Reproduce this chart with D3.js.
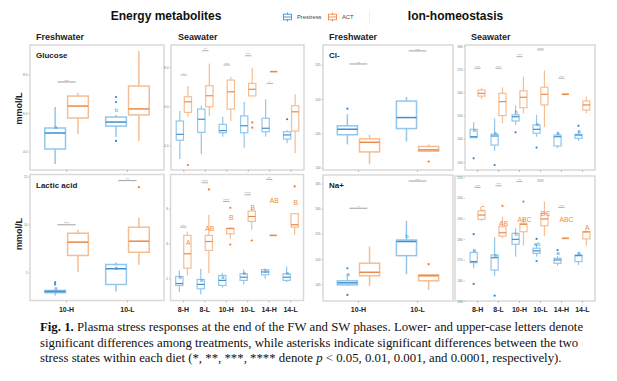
<!DOCTYPE html>
<html>
<head>
<meta charset="utf-8">
<script src="https://cdn.jsdelivr.net/npm/d3@7"></script>
<style>
  body { margin: 0; background: #fff; }
  svg { display: block; font-family: "Liberation Sans", Arial, sans-serif; }
</style>
</head>
<body>
<div id="chart"></div>
<script>
var fwCats = ["10-H", "10-L"];
var swCats = ["8-H", "8-L", "10-H", "10-L", "14-H", "14-L"];
var seriesNames = ["Prestress", "ACT"];

// box stats per category: [low whisker, q1, median, q3, high whisker]
// Glucose, freshwater
var glucoseFwPre = [[3.35, 4.13, 4.96, 5.22, 6.31], [4.75, 5.32, 5.53, 5.79, 5.90]];
var glucoseFwAct = [[4.91, 5.74, 6.36, 6.88, 7.04], [4.55, 5.90, 6.21, 7.40, 9.22]];
var glucoseFwPreOut = [[], [4.55, 6.57, 6.83]];
var glucoseFwActOut = [[], []];
var glucoseFwPreLet = [["a", 5.27], ["b", 6.16]];
var glucoseFwActLet = [null, null];
var glucoseFwSig = [["***", 7.61], null];
var glucoseFwTicks = [4, 6, 8];

// Glucose, seawater
var glucoseSwPre = [[3.31, 4.27, 4.57, 5.25, 5.76], [3.55, 4.67, 5.34, 5.86, 6.03], [4.45, 4.65, 4.76, 5.08, 5.47],
                    [3.89, 4.65, 5.01, 5.51, 6.23], [4.45, 4.70, 4.88, 5.39, 6.36], [4.11, 4.33, 4.54, 4.70, 4.79]];
var glucoseSwAct = [[5.47, 5.69, 6.23, 6.49, 7.04], [5.51, 5.98, 6.54, 7.05, 8.19], [5.25, 5.86, 6.74, 7.34, 7.51],
                    [6.53, 6.53, 6.87, 7.17, 7.97], [7.77, 7.77, 7.77, 7.77, 7.77], [3.60, 4.74, 5.72, 6.03, 6.61]];
var glucoseSwPreOut = [[], [], [], [], [], [5.34]];
var glucoseSwActOut = [[3.0], [], [], [5.18, 4.91], [], []];
var glucoseSwPreLet = [null, null, null, null, null, null];
var glucoseSwActLet = [null, null, null, null, null, null];
var glucoseSwSig = [["*", 7.60], ["**", 8.84], ["***", 8.11], ["***", 8.58], ["*", 7.17], null];
var glucoseSwTicks = [4, 6, 8];

// Lactic acid, freshwater
var lacticFwPre = [[2.60, 2.89, 3.02, 3.125, 3.125], [3.02, 3.75, 5.39, 5.83, 6.04]];
var lacticFwAct = [[5.03, 6.77, 8.16, 9.09, 9.45], [5.80, 7.11, 8.26, 9.72, 10.70]];
var lacticFwPreOut = [[3.96, 3.75], []];
var lacticFwActOut = [[], [13.89]];
var lacticFwPreLet = [["a", 3.44], ["b", 5.45]];
var lacticFwActLet = [null, null];
var lacticFwSig = [["****", 9.97], ["**", 14.58]];
var lacticFwTicks = [5, 10, 15];

// Lactic acid, seawater
var lacticSwPre = [[1.22, 1.60, 1.71, 2.11, 2.46], [1.09, 1.41, 1.66, 1.94, 2.55], [1.49, 1.60, 1.89, 2.17, 2.33],
                   [1.66, 1.89, 2.07, 2.27, 2.51], [1.98, 2.21, 2.37, 2.50, 2.59], [1.79, 1.89, 2.07, 2.27, 2.69]];
var lacticSwAct = [[2.17, 2.59, 3.41, 4.46, 4.69], [2.30, 3.60, 4.11, 4.46, 5.64], [4.27, 4.55, 4.85, 4.87, 4.93],
                   [4.78, 5.26, 5.54, 5.85, 6.02], [4.46, 4.46, 4.46, 4.46, 4.46], [4.50, 4.93, 5.07, 5.70, 5.70]];
var lacticSwPreOut = [[], [], [], [], [], []];
var lacticSwActOut = [[], [7.09], [6.04, 3.94], [4.17], [], [7.26]];
var lacticSwPreLet = [["a", 2.07], ["a", 1.89], ["a", 2.07], ["a", 2.30], ["b", 2.42], ["a", 2.30]];
var lacticSwActLet = [["A", 4.04], ["AB", 4.87], ["B", 5.50], ["B", 6.07], ["AB", 6.42], ["B", 6.36]];
var lacticSwSig = [["***", 4.93], ["****", 7.47], ["****", 6.40], ["****", 6.78], ["**", 7.66], null];
var lacticSwTicks = [2, 4, 6];

// Cl-, freshwater
var clFwPre = [[143.4, 144.8, 145.6, 146.1, 147.8], [143.8, 145.7, 147.3, 149.7, 150.3]];
var clFwAct = [[140.5, 142.3, 143.7, 144.2, 144.8], [142.4, 142.4, 142.6, 143.1, 143.4]];
var clFwPreOut = [[148.6], []];
var clFwActOut = [[], [140.9]];
var clFwPreLet = [null, null];
var clFwActLet = [null, null];
var clFwSig = [["**", 155.1], ["***", 157.0]];
var clFwTicks = [140, 145, 150, 155];

// Cl-, seawater
var clSwPre = [[140.5, 140.5, 140.9, 144.1, 147.1], [134.7, 137.3, 141.2, 142.0, 148.8], [146.0, 147.7, 149.5, 150.3, 154.3],
               [140.9, 142.4, 144.1, 146.0, 150.3], [135.9, 136.9, 140.9, 141.6, 143.1], [139.1, 140.2, 141.6, 141.9, 143.4]];
var clSwAct = [[157.2, 158.4, 159.6, 161.0, 161.8], [146.7, 150.0, 156.0, 159.6, 162.2], [151.0, 153.4, 157.9, 160.7, 166.8],
               [145.0, 154.6, 159.2, 162.2, 169.4], [159.2, 159.2, 159.2, 159.2, 159.2], [151.0, 152.4, 154.6, 156.3, 158.1]];
var clSwPreOut = [[131.6], [128.7], [142.8], [136.2], [], [145.6]];
var clSwActOut = [[], [], [], [], [], []];
var clSwPreLet = [["a", 143.8], ["a", 142.4], ["b", 151.4], ["a", 146.3], ["a", 142.4], ["a", 143.4]];
var clSwActLet = [null, null, null, null, null, null];
var clSwSig = [["***", 170.4], ["***", 170.4], ["***", 175.4], ["****", 178.3], ["***", 166.1], null];
var clSwTicks = [130, 140, 150, 160, 170, 180];

// Na+, freshwater
var naFwPre = [[144.7, 144.9, 145.3, 145.7, 146.9], [147.0, 150.7, 153.5, 153.8, 157.6]];
var naFwAct = [[144.7, 146.7, 147.4, 149.2, 152.5], [143.9, 145.7, 146.7, 146.9, 147.0]];
var naFwPreOut = [[148.2, 142.9], []];
var naFwActOut = [[], [149.0]];
var naFwPreLet = [["a", 147.1], ["b", 154.6]];
var naFwActLet = [null, null];
var naFwSig = [["*", 160.1], ["***", 165.5]];
var naFwTicks = [145, 150, 155, 160, 165];

// Na+, seawater
var naSwPre = [[165.9, 168.6, 169.1, 173.6, 174.7], [162.3, 165.0, 171.0, 172.3, 180.9], [171.5, 177.5, 179.9, 182.8, 185.3],
               [171.5, 173.1, 174.3, 175.6, 177.5], [167.1, 168.3, 169.9, 170.7, 171.8], [167.5, 169.1, 172.0, 172.3, 173.9]];
var naSwAct = [[188.8, 189.6, 191.7, 193.7, 194.1], [180.4, 181.5, 183.1, 186.0, 190.9], [176.8, 183.6, 187.2, 187.7, 190.1],
               [181.5, 186.5, 189.8, 192.5, 198.2], [180.4, 180.4, 180.4, 180.4, 180.4], [176.8, 180.1, 183.5, 183.6, 184.4]];
var naSwPreOut = [[182.4, 158.3], [152.6], [], [180.1, 169.4], [174.7], []];
var naSwActOut = [[], [196.2], [198.2], [], [], []];
var naSwPreLet = [["a", 174.7], ["a", 172.3], ["b", 182.5], ["ab", 177.5], ["a", 173.1], ["a", 173.4]];
var naSwActLet = [["C", 195.0], ["AB", 187.7], ["ABC", 189.6], ["BC", 192.5], ["ABC", 189.6], ["A", 185.6]];
var naSwSig = [["***", 205.1], ["***", 205.9], ["**", 207.9], ["****", 208.2], ["***", 195.4], null];
var naSwTicks = [150, 160, 170, 180, 190, 200, 210];

var captionLines = [
  ["Fig. 1.", " Plasma stress responses at the end of the FW and SW phases. Lower- and upper-case letters denote"],
  ["", "significant differences among treatments, while asterisks indicate significant differences between the two"],
  ["", "stress states within each diet (*, **, ***, **** denote ", "p", " < 0.05, 0.01, 0.001, and 0.0001, respectively)."]
];

var W = 617, H = 381;
var col = {
  Prestress: {box: "#93c6ea", med: "#3f90d0", pt: "#2f86cf", txt: "#4d9bd6"},
  ACT: {box: "#f6bd93", med: "#ea8a45", pt: "#ec7a2c", txt: "#ee8b48"}
};

var svg = d3.select("#chart").append("svg")
    .attr("width", W).attr("height", H);
svg.append("rect").attr("width", W).attr("height", H).attr("fill", "#fff");

function panel(o) {
  var g = svg.append("g");
  var x = d3.scaleBand().domain(o.cats).range([o.px0, o.x1]).paddingInner(0).paddingOuter(0.1);
  var step = x.step();
  var dodge = d3.scaleBand().domain(seriesNames).range([-0.375 * step, 0.375 * step]);
  var bw = 0.34 * step;
  var y = d3.scaleLinear().domain(o.domain).range([o.y1, o.y0]);
  var lw = o.cats.length > 2 ? 1.2 : 1.5;

  g.append("rect")
    .attr("x", o.x0).attr("y", o.y0)
    .attr("width", o.x1 - o.x0).attr("height", o.y1 - o.y0)
    .attr("fill", "none").attr("stroke", "#d9d9d9").attr("stroke-width", 1.5);

  var ya = g.append("g").attr("transform", "translate(" + o.px0 + ",0)")
    .call(d3.axisLeft(y).tickValues(o.ticks).tickSize(1.5).tickPadding(1));
  ya.select(".domain").remove();
  ya.selectAll("line").attr("stroke", "#aaa").attr("stroke-width", 0.6);
  ya.selectAll("text").attr("font-size", 3.2).attr("fill", "#777").attr("font-family", "Liberation Sans");

  var xa = g.append("g").attr("transform", "translate(0," + o.y1 + ")")
    .call(d3.axisBottom(x).tickSize(2).tickPadding(4.5));
  xa.select(".domain").remove();
  xa.selectAll("line").attr("stroke", "#999").attr("stroke-width", 0.6);
  xa.selectAll("text").attr("font-size", 7).attr("font-weight", "bold").attr("fill", "#222")
    .attr("font-family", "Liberation Sans")
    .style("display", o.xLabels ? null : "none");

  var groups = [["Prestress", o.pre, o.preOut, o.preLet], ["ACT", o.act, o.actOut, o.actLet]];
  groups.forEach(function (grp) {
    var s = grp[0], c = col[s];
    var items = o.cats.map(function (cat, i) { return {cat: cat, st: grp[1][i], out: grp[2][i], let: grp[3][i]}; });
    var gg = g.append("g");
    items.forEach(function (d) {
      var cx = x(d.cat) + step / 2 + dodge(s) + dodge.bandwidth() / 2;
      var st = d.st;
      var flat = st[0] === st[4];
      if (!flat) {
        gg.append("line").attr("x1", cx).attr("x2", cx)
          .attr("y1", y(st[3])).attr("y2", y(st[4]))
          .attr("stroke", c.box).attr("stroke-width", lw);
        gg.append("line").attr("x1", cx).attr("x2", cx)
          .attr("y1", y(st[1])).attr("y2", y(st[0]))
          .attr("stroke", c.box).attr("stroke-width", lw);
        gg.append("rect").attr("x", cx - bw / 2).attr("y", y(st[3]))
          .attr("width", bw).attr("height", Math.max(0.5, y(st[1]) - y(st[3])))
          .attr("fill", "none").attr("stroke", c.box).attr("stroke-width", lw);
      }
      gg.append("line").attr("x1", cx - bw / 2).attr("x2", cx + bw / 2)
        .attr("y1", y(st[2])).attr("y2", y(st[2]))
        .attr("stroke", c.med).attr("stroke-width", flat ? 1.6 : lw);
      d.out.forEach(function (v) {
        gg.append("circle").attr("cx", cx).attr("cy", y(v)).attr("r", 1.1).attr("fill", c.pt);
      });
      if (d.let) {
        gg.append("text").attr("x", cx + (s === "ACT" ? 1 : 0.5)).attr("y", y(d.let[1]))
          .attr("dy", "0.35em").attr("text-anchor", "middle")
          .attr("font-size", s === "ACT" ? 6.8 : 6).attr("fill", c.txt)
          .text(d.let[0]);
      }
    });
  });

  o.sig.forEach(function (sg, i) {
    if (!sg) return;
    var cx = x(o.cats[i]) + step / 2;
    var half = 0.15 * step;
    g.append("line").attr("x1", cx - half).attr("x2", cx + half)
      .attr("y1", y(sg[1])).attr("y2", y(sg[1]))
      .attr("stroke", "#a8a8a8").attr("stroke-width", o.cats.length > 2 ? 0.9 : 1.1);
    g.append("text").attr("x", cx).attr("y", y(sg[1]) + 0.6)
      .attr("text-anchor", "middle").attr("font-size", 4).attr("fill", "#999")
      .text(sg[0]);
  });

  if (o.label) {
    g.append("text").attr("x", o.x0 + 6).attr("y", o.y0 + 13)
      .attr("font-size", 8).attr("font-weight", "bold").attr("fill", "#222")
      .text(o.label);
  }
}

// energy metabolites
panel({x0: 30, px0: 30, x1: 164, y0: 45, y1: 170, cats: fwCats, domain: [3.04, 9.53], ticks: glucoseFwTicks,
       pre: glucoseFwPre, act: glucoseFwAct, preOut: glucoseFwPreOut, actOut: glucoseFwActOut,
       preLet: glucoseFwPreLet, actLet: glucoseFwActLet, sig: glucoseFwSig, label: "Glucose", xLabels: false});
panel({x0: 171, px0: 171, x1: 304, y0: 45, y1: 170, cats: swCats, domain: [2.75, 9.13], ticks: glucoseSwTicks,
       pre: glucoseSwPre, act: glucoseSwAct, preOut: glucoseSwPreOut, actOut: glucoseSwActOut,
       preLet: glucoseSwPreLet, actLet: glucoseSwActLet, sig: glucoseSwSig, xLabels: false});
panel({x0: 30, px0: 30, x1: 164, y0: 174.5, y1: 300.5, cats: fwCats, domain: [2.08, 15.21], ticks: lacticFwTicks,
       pre: lacticFwPre, act: lacticFwAct, preOut: lacticFwPreOut, actOut: lacticFwActOut,
       preLet: lacticFwPreLet, actLet: lacticFwActLet, sig: lacticFwSig, label: "Lactic acid", xLabels: true});
panel({x0: 170.5, px0: 170.5, x1: 303.5, y0: 174.5, y1: 300.5, cats: swCats, domain: [0.74, 7.94], ticks: lacticSwTicks,
       pre: lacticSwPre, act: lacticSwAct, preOut: lacticSwPreOut, actOut: lacticSwActOut,
       preLet: lacticSwPreLet, actLet: lacticSwActLet, sig: lacticSwSig, xLabels: true});

// ion homeostasis
panel({x0: 323, px0: 323, x1: 453, y0: 45, y1: 170, cats: fwCats, domain: [139.67, 157.86], ticks: clFwTicks,
       pre: clFwPre, act: clFwAct, preOut: clFwPreOut, actOut: clFwActOut,
       preLet: clFwPreLet, actLet: clFwActLet, sig: clFwSig, label: "Cl-", xLabels: false});
panel({x0: 465, px0: 465, x1: 595, y0: 45, y1: 170, cats: swCats, domain: [126.55, 180.43], ticks: clSwTicks,
       pre: clSwPre, act: clSwAct, preOut: clSwPreOut, actOut: clSwActOut,
       preLet: clSwPreLet, actLet: clSwActLet, sig: clSwSig, xLabels: false});
panel({x0: 323, px0: 323, x1: 453, y0: 175, y1: 301, cats: fwCats, domain: [141.7, 166.7], ticks: naFwTicks,
       pre: naFwPre, act: naFwAct, preOut: naFwPreOut, actOut: naFwActOut,
       preLet: naFwPreLet, actLet: naFwActLet, sig: naFwSig, label: "Na+", xLabels: true});
panel({x0: 455, px0: 465, x1: 595, y0: 176, y1: 301, cats: swCats, domain: [150.0, 210.63], ticks: naSwTicks,
       pre: naSwPre, act: naSwAct, preOut: naSwPreOut, actOut: naSwActOut,
       preLet: naSwPreLet, actLet: naSwActLet, sig: naSwSig, xLabels: true});

// titles
svg.append("text").attr("x", 166).attr("y", 20).attr("text-anchor", "middle")
  .attr("font-size", 12).attr("font-weight", "bold").attr("fill", "#111").text("Energy metabolites");
svg.append("text").attr("x", 455.5).attr("y", 20).attr("text-anchor", "middle")
  .attr("font-size", 12).attr("font-weight", "bold").attr("fill", "#111").text("Ion-homeostasis");

[[36, "Freshwater"], [178, "Seawater"], [329, "Freshwater"], [471, "Seawater"]].forEach(function (d) {
  svg.append("text").attr("x", d[0]).attr("y", 39.5).attr("font-size", 9).attr("font-weight", "bold")
    .attr("fill", "#222").text(d[1]);
});

[108.5, 234].forEach(function (cy) {
  svg.append("text").attr("transform", "translate(22," + cy + ") rotate(-90)")
    .attr("text-anchor", "middle").attr("font-size", 9).attr("font-weight", "bold")
    .attr("fill", "#222").text("mmol/L");
});

// legend
var leg = svg.append("g");
[[283, "Prestress"], [328, "ACT"]].forEach(function (d) {
  var c = col[d[1]];
  var gi = leg.append("g").attr("transform", "translate(" + d[0] + ",17)");
  gi.append("line").attr("x1", 4.5).attr("x2", 4.5).attr("y1", -4.5).attr("y2", 4.5)
    .attr("stroke", c.med).attr("stroke-width", 0.9);
  gi.append("rect").attr("x", 0.5).attr("y", -2.8).attr("width", 8).attr("height", 5.6)
    .attr("fill", "#fff").attr("stroke", c.med).attr("stroke-width", 0.9);
  gi.append("line").attr("x1", 0.5).attr("x2", 8.5).attr("y1", 0).attr("y2", 0)
    .attr("stroke", c.med).attr("stroke-width", 0.9);
  gi.append("text").attr("x", 14).attr("y", 2).attr("font-size", 5.8).attr("fill", "#444").text(d[1]);
});
leg.append("line").attr("x1", 369.5).attr("x2", 369.5).attr("y1", 10).attr("y2", 25)
  .attr("stroke", "#eee").attr("stroke-width", 0.8);

// caption
var cap = svg.append("text").attr("font-family", "Liberation Serif, Times New Roman, serif")
  .attr("font-size", 12.8).attr("fill", "#111");
captionLines.forEach(function (ln, i) {
  var t = cap.append("tspan").attr("x", 40).attr("y", 331 + i * 15.5);
  ln.forEach(function (part, j) {
    if (!part) return;
    var sp = t.append("tspan").text(part);
    if (i === 0 && j === 0) sp.attr("font-weight", "bold");
    if (i === 2 && j === 2) sp.attr("font-style", "italic");
  });
});
</script>
</body>
</html>
